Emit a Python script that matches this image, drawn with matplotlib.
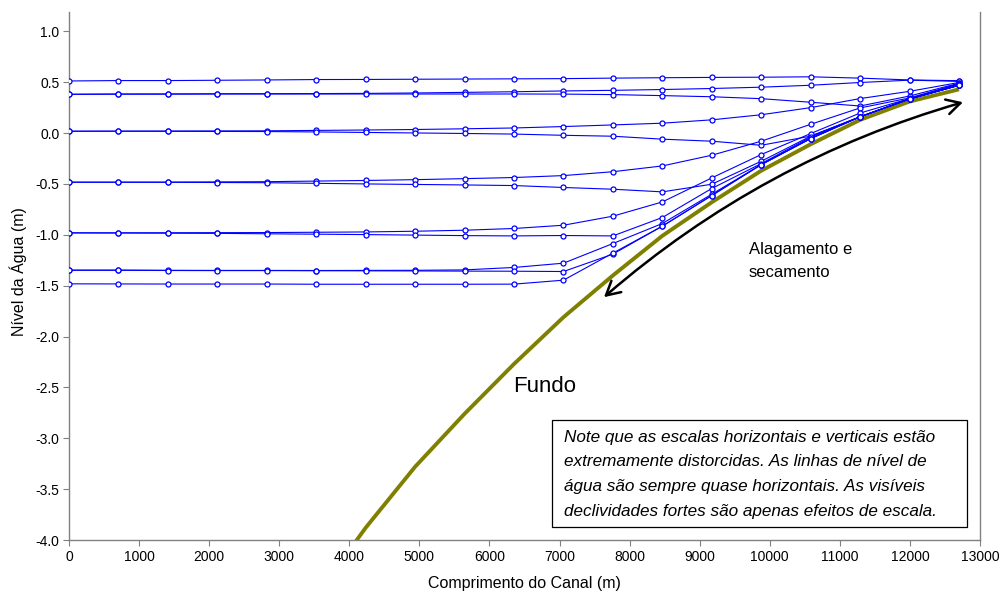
import matplotlib
matplotlib.use("Agg")
import matplotlib.pyplot as plt
from matplotlib.patches import FancyArrowPatch, Rectangle

plt.rcParams['font.family'] = ['Liberation Sans', 'DejaVu Sans']
plt.rcParams['axes.unicode_minus'] = False

# ---- data ----
x_nodes = [0, 706, 1411, 2117, 2822, 3528, 4233, 4939, 5644, 6350,
           7056, 7761, 8467, 9172, 9878, 10583, 11289, 11994, 12700]

x_bottom = [3528, 4233, 4939, 5644, 6350, 7056, 7761, 8467, 9172, 9878,
            10583, 11289, 11994, 12700]
z_bottom = [-4.55, -3.88, -3.28, -2.76, -2.27, -1.81, -1.40, -1.01, -0.68,
            -0.37, -0.11, 0.13, 0.31, 0.43]

level_high = [0.512, 0.516, 0.516, 0.519, 0.522, 0.526, 0.527, 0.529, 0.531, 0.533,
              0.535, 0.540, 0.544, 0.547, 0.549, 0.553, 0.540, 0.522, 0.515]
level_037_ebb = [0.381, 0.383, 0.384, 0.386, 0.387, 0.388, 0.390, 0.394, 0.400, 0.406,
                 0.414, 0.420, 0.428, 0.438, 0.451, 0.470, 0.497, 0.520, 0.508]
level_037_flood = [0.381, 0.383, 0.383, 0.384, 0.384, 0.384, 0.384, 0.384, 0.384, 0.384,
                   0.383, 0.378, 0.368, 0.357, 0.338, 0.303, 0.266, 0.364, 0.490]
level_000_ebb = [0.018, 0.019, 0.020, 0.021, 0.022, 0.026, 0.030, 0.035, 0.042, 0.050,
                 0.064, 0.080, 0.097, 0.130, 0.180, 0.250, 0.339, 0.410, 0.497]
level_000_flood = [0.018, 0.018, 0.017, 0.016, 0.015, 0.011, 0.006, 0.001, -0.004, -0.010,
                   -0.022, -0.031, -0.060, -0.080, -0.120, -0.030, 0.160, 0.335, 0.470]
level_050_ebb = [-0.483, -0.483, -0.482, -0.480, -0.478, -0.472, -0.466, -0.458, -0.448, -0.437,
                 -0.418, -0.380, -0.323, -0.218, -0.080, 0.086, 0.247, 0.345, 0.485]
level_050_flood = [-0.483, -0.483, -0.484, -0.486, -0.488, -0.494, -0.500, -0.505, -0.510, -0.516,
                   -0.535, -0.552, -0.578, -0.503, -0.277, -0.031, 0.160, 0.335, 0.470]
level_100_ebb = [-0.981, -0.981, -0.980, -0.979, -0.978, -0.975, -0.972, -0.965, -0.955, -0.938,
                 -0.906, -0.817, -0.677, -0.441, -0.211, -0.005, 0.197, 0.339, 0.480]
level_100_flood = [-0.981, -0.982, -0.984, -0.986, -0.990, -0.994, -0.998, -1.003, -1.008, -1.011,
                   -1.007, -1.011, -0.830, -0.545, -0.300, -0.040, 0.160, 0.335, 0.470]
level_135_ebb = [-1.348, -1.347, -1.349, -1.350, -1.350, -1.351, -1.350, -1.349, -1.345, -1.321,
                 -1.279, -1.086, -0.889, -0.601, -0.310, -0.054, 0.160, 0.335, 0.470]
level_135_flood = [-1.348, -1.349, -1.351, -1.352, -1.352, -1.353, -1.354, -1.355, -1.357, -1.358,
                   -1.361, -1.190, -0.915, -0.614, -0.310, -0.054, 0.160, 0.335, 0.470]
level_low = [-1.482, -1.483, -1.484, -1.484, -1.484, -1.486, -1.486, -1.486, -1.486, -1.485,
             -1.446, -1.180, -0.915, -0.614, -0.310, -0.054, 0.160, 0.335, 0.470]

water_levels = [level_high, level_037_ebb, level_037_flood, level_000_ebb, level_000_flood,
                level_050_ebb, level_050_flood, level_100_ebb, level_100_flood,
                level_135_ebb, level_135_flood, level_low]

x_ticks = list(range(0, 13001, 1000))
y_ticks = [1.0, 0.5, 0.0, -0.5, -1.0, -1.5, -2.0, -2.5, -3.0, -3.5, -4.0]

note_lines = ["Note que as escalas horizontais e verticais estão",
              "extremamente distorcidas. As linhas de nível de",
              "água são sempre quase horizontais. As visíveis",
              "declividades fortes são apenas efeitos de escala."]

# ---- figure ----
fig = plt.figure(figsize=(10.04, 5.93), dpi=100)
ax = fig.add_axes([69/1004, 1-540/593, 911/1004, 528/593])

for lv in water_levels:
    ax.plot(x_nodes, lv, color='#0000FF', lw=0.8, marker='o', ms=3.6,
            mfc='white', mec='#0000FF', mew=0.9, zorder=3)

ax.plot(x_bottom, z_bottom, color='#808000', lw=2.8, zorder=2, solid_capstyle='butt')

ax.set_xlim(0, 13000)
ax.set_ylim(-4.0, 1.19)
ax.set_xticks(x_ticks)
ax.set_xticklabels([str(t) for t in x_ticks])
ax.set_yticks(y_ticks)
ax.set_yticklabels(["%.1f" % t for t in y_ticks])

for s in ['left', 'bottom', 'right']:
    ax.spines[s].set_color('#808080')
    ax.spines[s].set_linewidth(1.0)
ax.spines['top'].set_visible(False)
ax.tick_params(axis='both', direction='out', length=4, width=0.8, color='#808080',
               labelsize=10, labelcolor='black', pad=3)
ax.tick_params(axis='y', right=False)

ax.set_xlabel("Comprimento do Canal (m)", fontsize=11.5)
ax.set_ylabel("Nível da Água (m)", fontsize=11.5)
ax.xaxis.set_label_coords(0.5, -0.068)
ax.yaxis.set_label_coords(-0.046, 0.508)

# double arrow (flooding and drying)
arr = FancyArrowPatch((7634, -1.613), (12757, 0.303),
                      connectionstyle='arc3,rad=-0.11',
                      arrowstyle='<->,head_length=0.55,head_width=0.3',
                      mutation_scale=18, lw=1.8, color='black',
                      shrinkA=0, shrinkB=0, zorder=4)
ax.add_patch(arr)

ax.text(9703, -1.193, "Alagamento e", fontsize=12, va='baseline', ha='left')
ax.text(9703, -1.413, "secamento", fontsize=12, va='baseline', ha='left')
ax.text(6336, -2.543, "Fundo", fontsize=16, va='baseline', ha='left')

rect = Rectangle((6892, -3.872), 12814 - 6892, -2.821 + 3.872, facecolor='white',
                 edgecolor='black', lw=0.9, zorder=5)
ax.add_patch(rect)
for i, ln in enumerate(note_lines):
    ax.text(7068, -3.034 - i * 0.2426, ln, fontsize=12.3, style='italic',
            va='baseline', ha='left', zorder=6)

fig.savefig("out.png", dpi=100)
